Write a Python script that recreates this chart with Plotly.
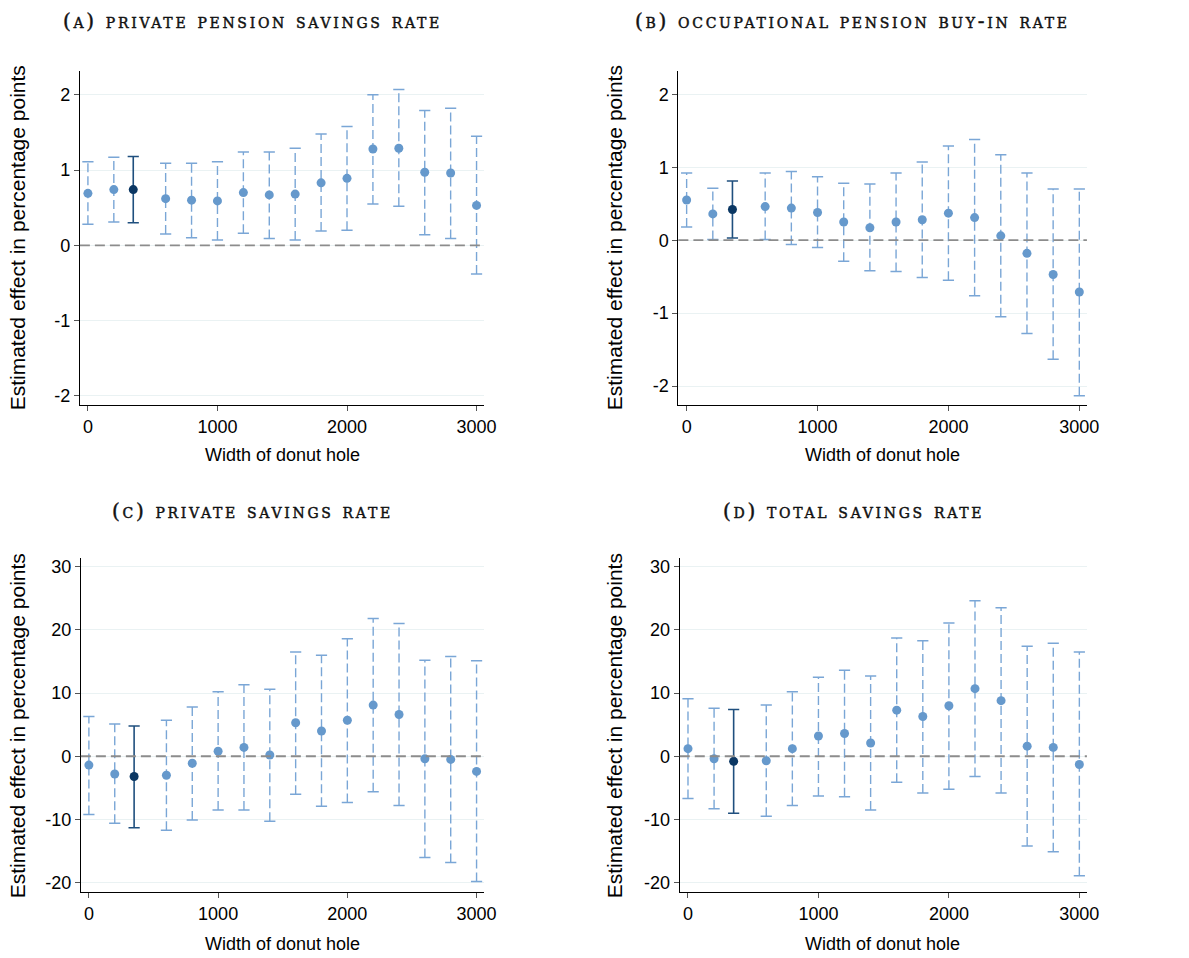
import plotly.graph_objects as go

# Donut-hole widths; the 350 entry is the baseline specification
widths = [0, 200, 350, 600, 800, 1000, 1200, 1400, 1600, 1800, 2000, 2200, 2400, 2600, 2800, 3000]
baseline_width = 350

# (a) private pension savings rate
a_est = [0.69, 0.74, 0.74, 0.62, 0.60, 0.59, 0.70, 0.67, 0.68, 0.83, 0.89, 1.28, 1.29, 0.97, 0.96, 0.53]
a_hi = [1.11, 1.17, 1.18, 1.09, 1.09, 1.11, 1.24, 1.24, 1.29, 1.48, 1.58, 2.00, 2.07, 1.79, 1.82, 1.45]
a_lo = [0.28, 0.31, 0.30, 0.15, 0.10, 0.07, 0.16, 0.09, 0.07, 0.19, 0.20, 0.55, 0.52, 0.14, 0.09, -0.38]

# (b) occupational pension buy-in rate
b_est = [0.55, 0.36, 0.42, 0.46, 0.44, 0.38, 0.25, 0.17, 0.25, 0.28, 0.37, 0.31, 0.06, -0.18, -0.47, -0.71]
b_hi = [0.92, 0.71, 0.81, 0.92, 0.94, 0.87, 0.78, 0.77, 0.92, 1.07, 1.29, 1.38, 1.17, 0.92, 0.70, 0.70]
b_lo = [0.18, 0.01, 0.03, 0.01, -0.06, -0.10, -0.29, -0.42, -0.43, -0.51, -0.55, -0.76, -1.05, -1.28, -1.63, -2.13]

# (c) private savings rate
c_est = [-1.4, -2.8, -3.2, -3.0, -1.1, 0.8, 1.4, 0.2, 5.3, 4.0, 5.7, 8.1, 6.6, -0.4, -0.5, -2.4]
c_hi = [6.3, 5.1, 4.8, 5.7, 7.8, 10.2, 11.3, 10.6, 16.5, 16.0, 18.6, 21.8, 21.0, 15.2, 15.8, 15.1]
c_lo = [-9.2, -10.6, -11.3, -11.7, -10.1, -8.5, -8.5, -10.3, -6.0, -7.9, -7.3, -5.6, -7.8, -16.0, -16.8, -19.8]

# (d) total savings rate
d_est = [1.2, -0.4, -0.8, -0.7, 1.2, 3.2, 3.6, 2.1, 7.3, 6.3, 8.0, 10.7, 8.8, 1.6, 1.4, -1.3]
d_hi = [9.1, 7.6, 7.4, 8.1, 10.2, 12.5, 13.6, 12.7, 18.7, 18.3, 21.1, 24.6, 23.5, 17.4, 17.9, 16.5]
d_lo = [-6.7, -8.3, -9.0, -9.5, -7.8, -6.3, -6.4, -8.5, -4.1, -5.8, -5.2, -3.2, -5.8, -14.2, -15.1, -18.9]

titles = ["(a) private pension savings rate", "(b) occupational pension buy-in rate",
          "(c) private savings rate", "(d) total savings rate"]
x_title = "Width of donut hole"
y_title = "Estimated effect in percentage points"
x_ticks = [0, 1000, 2000, 3000]
y_ticks_small = [-2, -1, 0, 1, 2]
y_ticks_large = [-20, -10, 0, 10, 20, 30]

W, H = 1189, 958
LIGHT = "#6699cc"
LIGHT_BAR = "#7aa6d6"
DARK = "#0b3763"
DARK_BAR = "#1f4f7e"

panels = [
    dict(est=a_est, hi=a_hi, lo=a_lo, ticks=y_ticks_small, yr=[-2.124, 2.318], xr=[-62, 3058],
         px=(80.7, 489), py=(70, 405), title_xy=(255, 20), xl_xy=(285, 455), yl_xy=(18, 237)),
    dict(est=b_est, hi=b_hi, lo=b_lo, ticks=y_ticks_small, yr=[-2.26, 2.32], xr=[-63, 3058],
         px=(685.3, 1098), py=(70, 405), title_xy=(861, 20), xl_xy=(892, 455), yl_xy=(621, 237)),
    dict(est=c_est, hi=c_hi, lo=c_lo, ticks=y_ticks_large, yr=[-21.5, 31.4], xr=[-62, 3058],
         px=(81.7, 489), py=(558, 893), title_xy=(255, 511), xl_xy=(285, 945), yl_xy=(18, 726)),
    dict(est=d_est, hi=d_hi, lo=d_lo, ticks=y_ticks_large, yr=[-21.5, 31.4], xr=[-63, 3058],
         px=(686.7, 1098), py=(558, 893), title_xy=(862, 511), xl_xy=(892, 945), yl_xy=(621, 726)),
]

fig = go.Figure()
layout = dict(
    width=W, height=H, margin=dict(l=0, r=0, t=0, b=0),
    paper_bgcolor="white", plot_bgcolor="white", showlegend=False,
    font=dict(family="Liberation Sans, Arial, sans-serif", size=18, color="black"),
)
annotations = []
shapes = []

for i, p in enumerate(panels):
    k = "" if i == 0 else str(i + 1)
    xa, ya = "x" + k, "y" + k

    # dashed confidence intervals
    bx, by, dbx, dby = [], [], [], []
    for w, lo, hi in zip(widths, p["lo"], p["hi"]):
        if w == baseline_width:
            dbx += [w, w, None]
            dby += [lo, hi, None]
        else:
            bx += [w, w, None]
            by += [lo, hi, None]
    fig.add_trace(go.Scatter(x=bx, y=by, mode="lines", xaxis=xa, yaxis=ya,
                             line=dict(color=LIGHT_BAR, width=1.4, dash="9px,4px"),
                             hoverinfo="skip"))
    fig.add_trace(go.Scatter(x=dbx, y=dby, mode="lines", xaxis=xa, yaxis=ya,
                             line=dict(color=DARK_BAR, width=1.6), hoverinfo="skip"))

    # caps at both ends of every interval
    cap_x = widths + widths
    cap_y = p["lo"] + p["hi"]
    cap_c = [DARK_BAR if w == baseline_width else LIGHT_BAR for w in cap_x]
    fig.add_trace(go.Scatter(x=cap_x, y=cap_y, mode="markers", xaxis=xa, yaxis=ya,
                             marker=dict(symbol="line-ew", size=8, color=cap_c,
                                         line=dict(color=cap_c, width=1.5)),
                             hoverinfo="skip"))

    # point estimates
    pt_c = [DARK if w == baseline_width else LIGHT for w in widths]
    fig.add_trace(go.Scatter(x=widths, y=p["est"], mode="markers", xaxis=xa, yaxis=ya,
                             marker=dict(size=9, color=pt_c, line=dict(width=0))))

    x0, x1 = p["px"]
    ytop, ybot = p["py"]
    layout["xaxis" + k] = dict(
        domain=[x0 / W, x1 / W], anchor=ya, range=p["xr"], tickvals=x_ticks,
        showgrid=False, zeroline=False, showline=True, linecolor="black", linewidth=1.2,
        ticks="outside", ticklen=5, tickcolor="#555", tickwidth=1,
        tickfont=dict(size=18), fixedrange=True,
    )
    layout["yaxis" + k] = dict(
        domain=[1 - ybot / H, 1 - ytop / H], anchor=xa, range=p["yr"],
        tickvals=p["ticks"], ticktext=[str(t) for t in p["ticks"]],
        showgrid=True, gridcolor="#eaf2f3", gridwidth=1.2, zeroline=False,
        showline=True, linecolor="black", linewidth=1.2,
        ticks="outside", ticklen=5, tickcolor="#555", tickwidth=1,
        tickfont=dict(size=18), fixedrange=True,
    )

    # reference line at zero
    shapes.append(dict(type="line", xref=xa + " domain", yref=ya, x0=0, x1=1, y0=0, y1=0,
                       line=dict(color="#8c8c8c", width=1.8, dash="10px,5px"), layer="above"))

    # panel heading in letter-spaced small caps, lightly stroked for weight
    tx, ty = p["title_xy"]
    heading = ("<span style='letter-spacing:2.7px;stroke:#111;stroke-width:0.45px'>"
               + titles[i] + "</span>")
    annotations.append(dict(text=heading,
                            x=tx / W, y=1 - ty / H, xref="paper", yref="paper",
                            showarrow=False, xanchor="center", yanchor="middle",
                            font=dict(family="DejaVu Serif, serif", size=20, color="#111",
                                      variant="small-caps")))
    lx, ly = p["xl_xy"]
    annotations.append(dict(text=x_title, x=lx / W, y=1 - ly / H, xref="paper", yref="paper",
                            showarrow=False, xanchor="center", yanchor="middle",
                            font=dict(size=18)))
    vx, vy = p["yl_xy"]
    annotations.append(dict(text=y_title, x=vx / W, y=1 - vy / H, xref="paper", yref="paper",
                            showarrow=False, xanchor="center", yanchor="middle", textangle=-90,
                            font=dict(size=21)))

layout["annotations"] = annotations
layout["shapes"] = shapes
fig.update_layout(**layout)
fig.write_html("out.html")
